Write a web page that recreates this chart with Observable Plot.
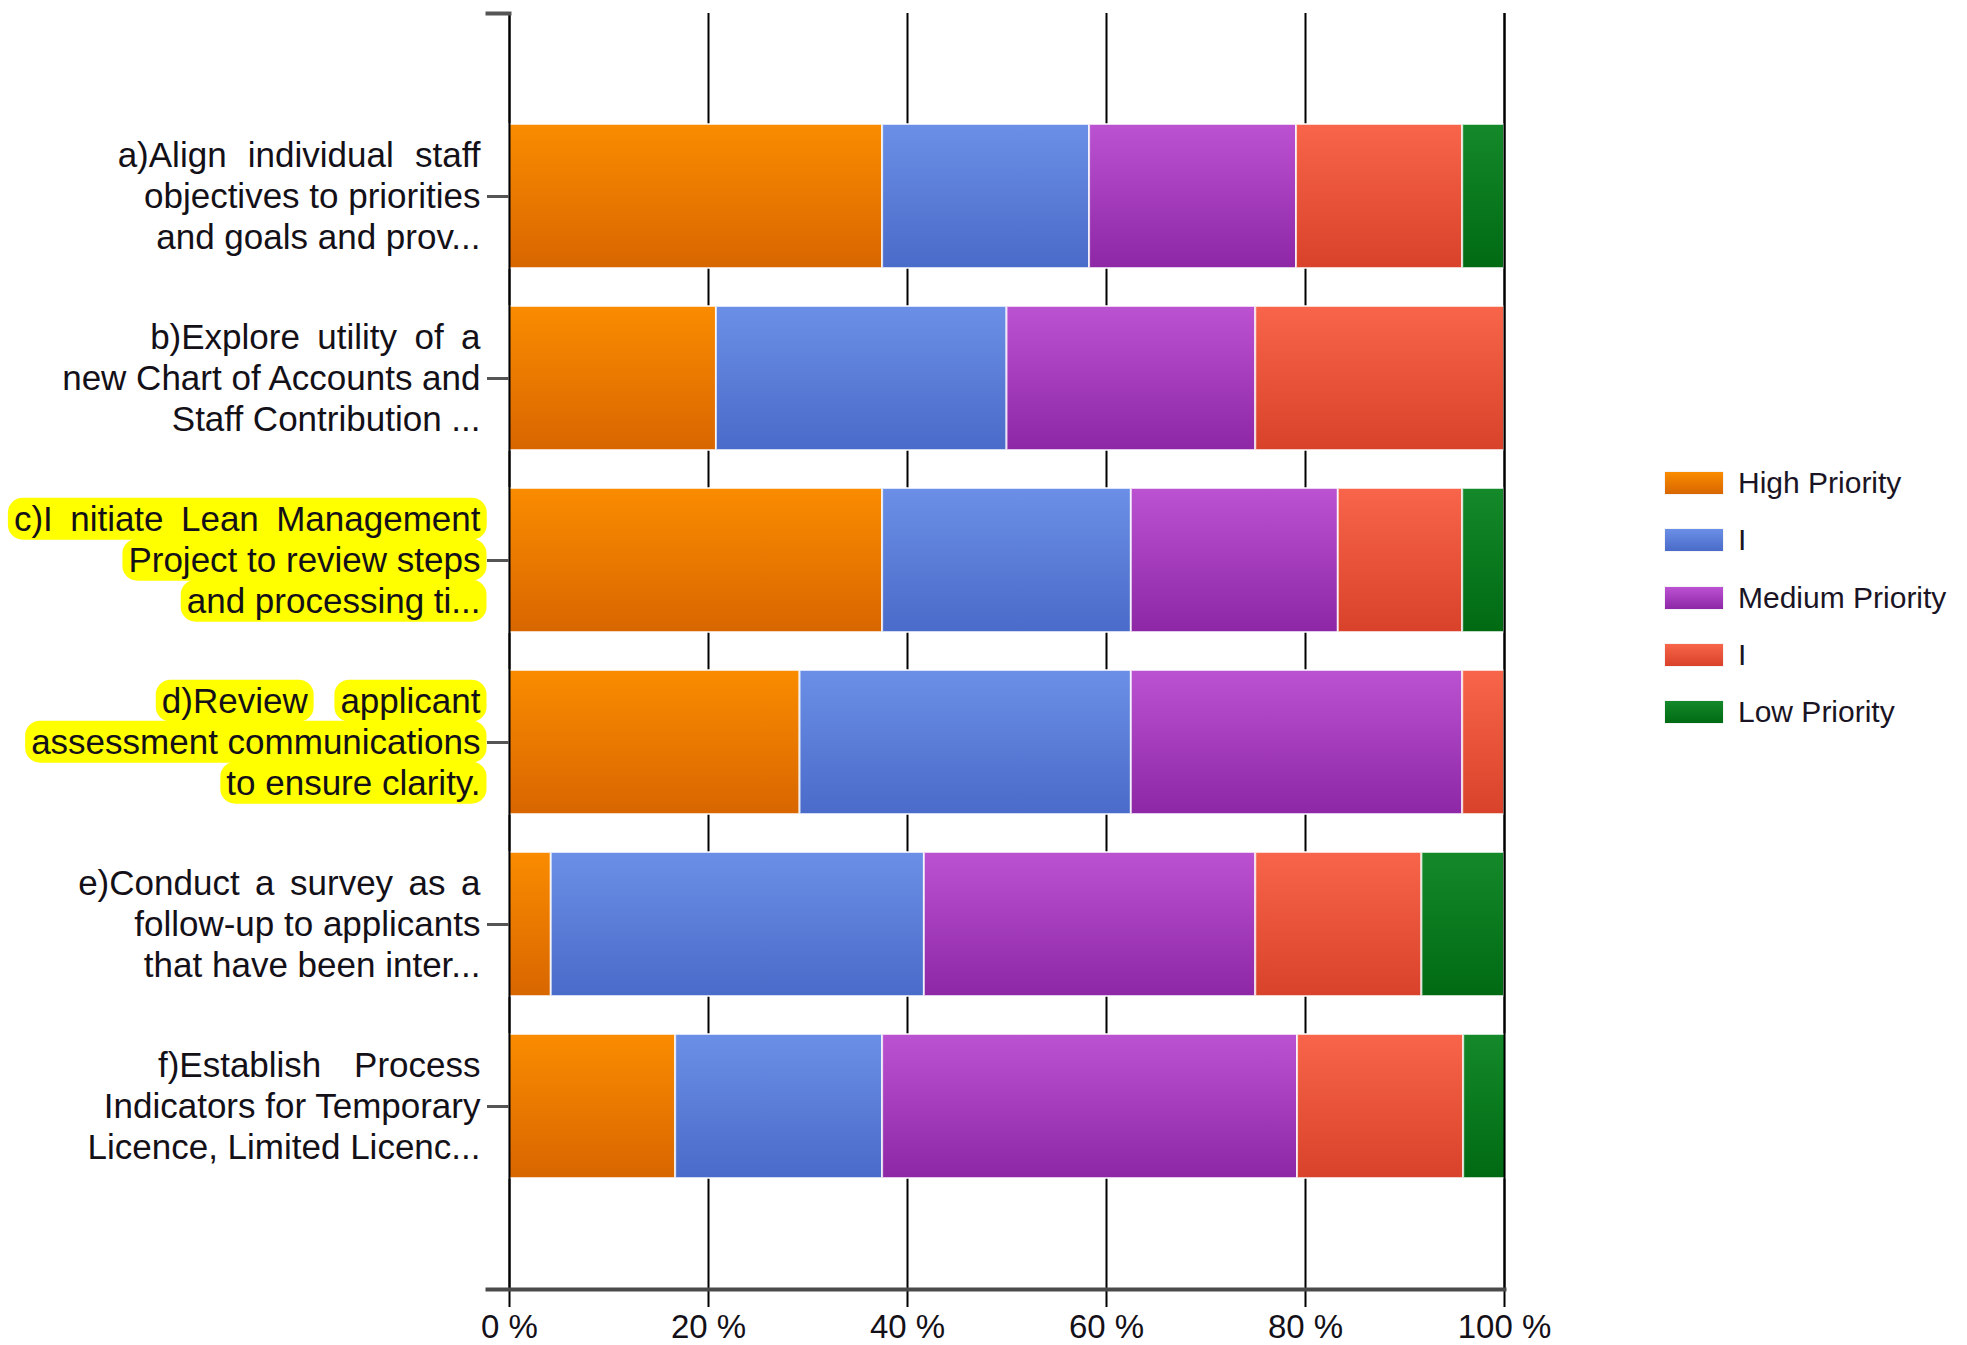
<!DOCTYPE html>
<html>
<head>
<meta charset="utf-8">
<script src="https://cdn.jsdelivr.net/npm/d3@7"></script>
<script src="https://cdn.jsdelivr.net/npm/@observablehq/plot@0.6"></script>
<style>
  body { margin: 0; background: #fff; }
  #wrap { position: relative; width: 1967px; height: 1345px; }
  #legend {
    position: absolute; left: 1665px; top: 472px;
    font-family: "Liberation Sans", Arial, sans-serif; font-size: 30px; color: #1a1424;
  }
  .item { display: flex; align-items: center; height: 22px; margin-bottom: 35.25px; }
  .sw { width: 58px; height: 22px; margin-right: 15px; box-sizing: border-box; box-shadow: 0 0 1px rgba(0,0,0,0.25); }
</style>
</head>
<body>
<div id="wrap"><div id="legend"></div></div>
<script>
// Action items, each wrapped onto three lines as shown beside its bar
const taskIds = ["a", "b", "c", "d", "e", "f"];
const taskLines = [
  ["a)Align individual staff", "objectives to priorities", "and goals and prov..."],
  ["b)Explore utility of a", "new Chart of Accounts and", "Staff Contribution ..."],
  ["c)I nitiate Lean Management", "Project to review steps", "and processing ti..."],
  ["d)Review applicant", "assessment communications", "to ensure clarity."],
  ["e)Conduct a survey as a", "follow-up to applicants", "that have been inter..."],
  ["f)Establish Process", "Indicators for Temporary", "Licence, Limited Licenc..."]
];
const highlightedTasks = ["c", "d"];
// lines whose highlighter strokes were made word by word
const wordByWordLines = ["d)Review applicant"];

// Priority scale (legend order) and share of responses in percent
const seriesKeys = ["high", "upperMid", "medium", "lowerMid", "low"];
const seriesLabels = ["High Priority", "I", "Medium Priority", "I", "Low Priority"];
const highPriority   = [37.5, 20.8, 37.5, 29.2,  4.2, 16.7];
const upperMid       = [20.8, 29.2, 25.0, 33.3, 37.5, 20.8];
const mediumPriority = [20.8, 25.0, 20.8, 33.3, 33.3, 41.7];
const lowerMid       = [16.7, 25.0, 12.5,  4.2, 16.7, 16.7];
const lowPriority    = [ 4.2,  0.0,  4.2,  0.0,  8.3,  4.2];
const seriesValues = [highPriority, upperMid, mediumPriority, lowerMid, lowPriority];

const xTicks = [0, 20, 40, 60, 80, 100];

// Vertical gradient (top, bottom) for each priority
const gradientTop    = ["#fa8c00", "#6b8fe6", "#bb52d1", "#f8654a", "#14892a"];
const gradientBottom = ["#d86600", "#4a6bc9", "#8d27a6", "#d8422a", "#006a13"];

const rows = seriesKeys.flatMap((key, s) =>
  taskIds.map((task, t) => ({task, key, value: seriesValues[s][t]}))
).filter(d => d.value > 0);

const labelRows = taskIds.flatMap((task, t) =>
  taskLines[t].map((text, line) => ({task, line, text, hl: highlightedTasks.includes(task)}))
);

const W = 1967, H = 1345;
const mLeft = 509, mRight = 463, mTop = 13, mBottom = 56;
const plotWidth = W - mLeft - mRight;
const lineGap = 41;
const firstLineStretch = 23; // extra width spread over the spaces of each first line

const labelMarks = [0, 1, 2].map(i =>
  Plot.text(labelRows.filter(d => d.line === i), {
    y: "task", text: "text", frameAnchor: "left", textAnchor: "end",
    dx: -29, dy: (i - 1) * lineGap, fontSize: 35, fill: "#141018"
  })
);

const chart = Plot.plot({
  width: W, height: H,
  marginLeft: mLeft, marginRight: mRight, marginTop: mTop, marginBottom: mBottom,
  style: {fontFamily: "'Liberation Sans', Arial, sans-serif", background: "white", color: "#141018"},
  x: {domain: [0, 100]},
  y: {domain: taskIds, paddingInner: 0.21, paddingOuter: 0.605, axis: null},
  color: {domain: seriesKeys, range: seriesKeys.map(k => `url(#grad-${k})`)},
  marks: [
    // grid lines that double as x ticks
    Plot.ruleX(xTicks, {stroke: "#000", strokeWidth: 2, insetBottom: -18}),
    Plot.barX(rows, Plot.stackX({
      x: "value", y: "task", fill: "key", order: seriesKeys,
      stroke: "white", strokeWidth: 2, strokeOpacity: 0.75
    })),
    Plot.ruleX([0, 100], {stroke: "#000", strokeWidth: 2}),
    // y ticks at each band centre
    Plot.tickY(taskIds, {y: d => d, insetLeft: -22, insetRight: plotWidth, stroke: "#555", strokeWidth: 3}),
    // top end cap of the y axis and the baseline
    Plot.frame({anchor: "top", insetLeft: -22, insetRight: plotWidth, stroke: "#555", strokeWidth: 4}),
    Plot.frame({anchor: "bottom", insetLeft: -22, stroke: "#4a4a4a", strokeWidth: 4}),
    Plot.axisX({
      ticks: xTicks, tickSize: 0, tickPadding: 25, label: null,
      tickFormat: d => `${d} %`, fontSize: 33,
      fontFamily: "'Liberation Sans', Arial, sans-serif", fill: "#141018"
    }),
    ...labelMarks
  ]
});

document.getElementById("wrap").prepend(chart);

// gradient definitions referenced by the colour scale
const defs = d3.select(chart).insert("defs", ":first-child");
seriesKeys.forEach((k, i) => {
  const g = defs.append("linearGradient").attr("id", `grad-${k}`)
    .attr("x1", 0).attr("y1", 0).attr("x2", 0).attr("y2", 1);
  g.append("stop").attr("offset", "0%").attr("stop-color", gradientTop[i]);
  g.append("stop").attr("offset", "100%").attr("stop-color", gradientBottom[i]);
});

const byText = new Map(labelRows.map(d => [d.text, d]));
const labelNodes = [];
d3.select(chart).selectAll("text").each(function () {
  const d = byText.get(this.textContent);
  if (d) labelNodes.push([this, d]);
});

// first lines are set loosely
labelNodes.forEach(([el, d]) => {
  if (d.line !== 0) return;
  const spaces = (d.text.match(/ /g) || []).length;
  if (spaces) el.setAttribute("word-spacing", firstLineStretch / spaces);
});

// yellow highlighter behind the marked items
function strokeSpans(el, text) {
  if (!wordByWordLines.includes(text)) {
    const b = el.getBBox();
    return [[b.x, b.x + b.width]];
  }
  const spans = [];
  let i = 0;
  for (const w of text.split(" ")) {
    const a = el.getExtentOfChar(i), z = el.getExtentOfChar(i + w.length - 1);
    spans.push([a.x, z.x + z.width]);
    i += w.length + 1;
  }
  return spans;
}
labelNodes.forEach(([el, d]) => {
  if (!d.hl) return;
  const b = el.getBBox();
  for (const [x0, x1] of strokeSpans(el, d.text)) {
    const r = document.createElementNS("http://www.w3.org/2000/svg", "rect");
    r.setAttribute("x", x0 - 6);
    r.setAttribute("y", b.y - 1);
    r.setAttribute("width", x1 - x0 + 12);
    r.setAttribute("height", b.height + 3);
    r.setAttribute("rx", 15);
    r.setAttribute("fill", "#ffff00");
    if (el.getAttribute("transform")) r.setAttribute("transform", el.getAttribute("transform"));
    el.parentNode.insertBefore(r, el);
  }
});

// legend
const legend = d3.select("#legend");
seriesLabels.forEach((label, i) => {
  const item = legend.append("div").attr("class", "item");
  item.append("div").attr("class", "sw")
    .style("background", `linear-gradient(${gradientTop[i]}, ${gradientBottom[i]})`);
  item.append("span").text(label);
});
</script>
</body>
</html>
